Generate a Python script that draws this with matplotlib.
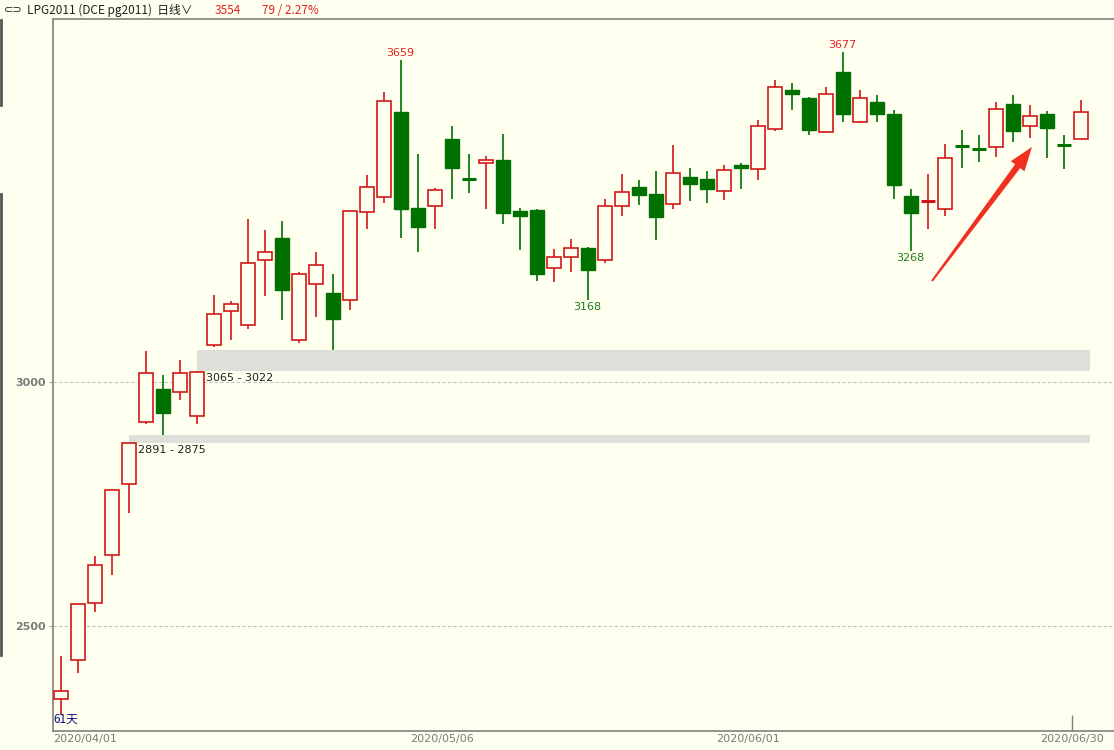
import matplotlib
matplotlib.use("Agg")
import matplotlib.pyplot as plt
from matplotlib.patches import Rectangle, Polygon
from matplotlib.lines import Line2D

# ---- data ----
opens  = [2350, 2430, 2547, 2645, 2790, 2919, 2985, 2979, 2930, 3075,
          3145, 3116, 3249, 3296, 3087, 3200, 3182, 3169, 3349, 3380,
          3553, 3356, 3360, 3499, 3416, 3448, 3455, 3350, 3352, 3234,
          3257, 3274, 3249, 3360, 3399, 3385, 3364, 3421, 3415, 3391,
          3444, 3436, 3518, 3599, 3583, 3513, 3635, 3532, 3573, 3549,
          3381, 3370, 3354, 3484, 3479, 3481, 3570, 3525, 3550, 3487,
          3499]
highs  = [2439, 2545, 2643, 2778, 2875, 3064, 3014, 3045, 3022, 3178,
          3166, 3335, 3311, 3330, 3225, 3266, 3221, 3352, 3424, 3594,
          3659, 3468, 3397, 3524, 3468, 3463, 3508, 3356, 3354, 3272,
          3294, 3277, 3375, 3426, 3414, 3432, 3486, 3438, 3432, 3445,
          3449, 3537, 3619, 3612, 3584, 3605, 3677, 3598, 3588, 3557,
          3395, 3426, 3488, 3516, 3506, 3574, 3588, 3567, 3555, 3506,
          3577]
lows   = [2318, 2403, 2529, 2605, 2731, 2913, 2891, 2963, 2913, 3072,
          3087, 3108, 3177, 3128, 3079, 3133, 3065, 3148, 3314, 3367,
          3296, 3267, 3314, 3376, 3388, 3354, 3324, 3270, 3208, 3204,
          3225, 3168, 3243, 3341, 3363, 3291, 3354, 3371, 3367, 3374,
          3396, 3413, 3515, 3557, 3507, 3511, 3533, 3531, 3533, 3376,
          3268, 3313, 3340, 3439, 3451, 3462, 3492, 3501, 3459, 3436,
          3497]
closes = [2367, 2545, 2624, 2778, 2874, 3018, 2937, 3018, 3020, 3139,
          3159, 3243, 3266, 3188, 3221, 3239, 3129, 3350, 3400, 3575,
          3355, 3318, 3393, 3439, 3414, 3455, 3347, 3341, 3222, 3257,
          3274, 3229, 3360, 3389, 3383, 3339, 3429, 3405, 3396, 3434,
          3438, 3524, 3605, 3591, 3516, 3591, 3549, 3583, 3549, 3404,
          3347, 3372, 3460, 3482, 3477, 3559, 3515, 3546, 3521, 3485,
          3554]

date_labels = ["2020/04/01", "2020/05/06", "2020/06/01", "2020/06/30"]
date_index  = [0, 21, 39, 59.5]

gaps = [(4, 2875, 2891), (8, 3022, 3065)]   # (start bar, low, high)
high_marks = [(20, 3659), (46, 3677)]
low_marks  = [(31, 3168), (50, 3268)]

yticks = [2500, 3000]

last_price = "3554"
change_txt = "79 / 2.27%"

# ---- style ----
BG = "#FFFFF0"
RED = "#D01818"
GREEN = "#007000"
GRAY = "#7A7A7A"
W, H = 1114, 750

fig = plt.figure(figsize=(W / 100, H / 100), dpi=100, facecolor=BG)
ax = fig.add_axes([53 / W, (H - 731) / H, (W - 53) / W, (731 - 19) / H])
ax.set_facecolor(BG)

n = len(opens)
ax.set_xlim(-0.453, 61.96)
ax.set_ylim(2284.8, 3743.9)

bw = 0.82
for i, (o, h, l, c) in enumerate(zip(opens, highs, lows, closes)):
    up = c >= o
    col = RED if up else GREEN
    top, bot = max(o, c), min(o, c)
    ax.vlines(i, l, h, color=col, lw=1.2, zorder=3)
    if top - bot < 3:
        ax.hlines((o + c) / 2, i - bw / 2, i + bw / 2, color=col, lw=2.2, zorder=4)
    elif up:
        ax.add_patch(Rectangle((i - bw / 2, bot), bw, top - bot, facecolor=BG,
                               edgecolor=col, lw=1.2, zorder=4))
    else:
        ax.add_patch(Rectangle((i - bw / 2, bot), bw, top - bot, facecolor=col,
                               edgecolor=col, lw=1.0, zorder=4))

# gap bands
for start, lo, hi in gaps:
    ax.add_patch(Rectangle((start, lo), (n - 1 + 0.55) - start, hi - lo,
                           facecolor="#DFDFDA", edgecolor="none", zorder=1))
    ax.annotate(f"{hi} - {lo}", (start + 0.53, lo), xytext=(0, -2),
                textcoords="offset pixels", ha="left", va="top",
                fontsize=8, color="#202020", zorder=5)

# grid lines
for y in yticks:
    ax.axhline(y, color="#C4C4C4", lw=0.8, ls=(0, (3, 2)), zorder=0)

# high / low marks
for i, v in high_marks:
    ax.annotate(str(v), (i, v), xytext=(0, 2), textcoords="offset pixels",
                ha="center", va="bottom", fontsize=8, color="#E02020")
for i, v in low_marks:
    ax.annotate(str(v), (i, v), xytext=(0, -2), textcoords="offset pixels",
                ha="center", va="top", fontsize=8, color="#1E7A1E")

# axes styling
ax.set_yticks(yticks)
ax.set_yticklabels([str(t) for t in yticks], fontsize=8, color=GRAY, fontweight="bold")
ax.tick_params(axis="y", length=3, color="#A0A0A0", pad=2)
ax.set_xticks([])
for s in ["right"]:
    ax.spines[s].set_visible(False)
for s in ["left", "bottom", "top"]:
    ax.spines[s].set_color("#808080")
    ax.spines[s].set_linewidth(1.2)

# date labels
for lab, idx in zip(date_labels, date_index):
    if idx == date_index[-1]:
        ax.vlines(idx, 2284.8, 2284.8 + 16 / 0.488, color="#808080", lw=1, clip_on=False)
        ax.text(idx, 2284.8 - 8 / 0.488, lab, ha="center", va="center",
                fontsize=8, color=GRAY, clip_on=False)
    else:
        ax.text(idx - 0.45, 2284.8 - 8 / 0.488, lab, ha="left", va="center",
                fontsize=8, color=GRAY, clip_on=False)

ax.text(-0.45, 2284.8 + 12 / 0.488, f"{n}天", ha="left", va="center",
        fontsize=8.5, color="#101080", family=["Noto Sans CJK SC", "DejaVu Sans"])

# header
cjk = ["Noto Sans CJK SC", "DejaVu Sans"]
fig.text(4 / W, 1 - 10 / H, "⊂⊃", fontsize=8, color="#202020", va="center", ha="left",
         family=["DejaVu Sans"])
fig.text(27 / W, 1 - 10 / H, "LPG2011 (DCE pg2011)  日线∨", fontsize=8.5,
         color="#202020", va="center", ha="left", family=cjk)
fig.text(215 / W, 1 - 10 / H, last_price, fontsize=8.5, color="#E02020",
         va="center", ha="left", family=cjk)
fig.text(262 / W, 1 - 10 / H, change_txt, fontsize=8.5, color="#E02020",
         va="center", ha="left", family=cjk)

# left window edge strips
fig.add_artist(Line2D([1 / W, 1 / W], [1 - 20 / H, 1 - 105 / H], color="#555555", lw=2))
fig.add_artist(Line2D([1 / W, 1 / W], [1 - 194 / H, 1 - 655 / H], color="#555555", lw=2))

# red arrow annotation
import numpy as np
tail = np.array([932.0, 281.0])
tip = np.array([1032.0, 147.0])
d = tip - tail
u = d / np.linalg.norm(d)
nv = np.array([-u[1], u[0]])
base = tip - u * 24
pts = [tail + nv * 1.0, base + nv * 3.2, base + nv * 8.5, tip,
       base - nv * 8.5, base - nv * 3.2, tail - nv * 1.0]
pts = [(p[0] / W, 1 - p[1] / H) for p in pts]
fig.add_artist(Polygon(pts, closed=True, facecolor="#F03020", edgecolor="none",
                       transform=fig.transFigure, zorder=10))

fig.savefig("out.png", dpi=100, facecolor=BG)
